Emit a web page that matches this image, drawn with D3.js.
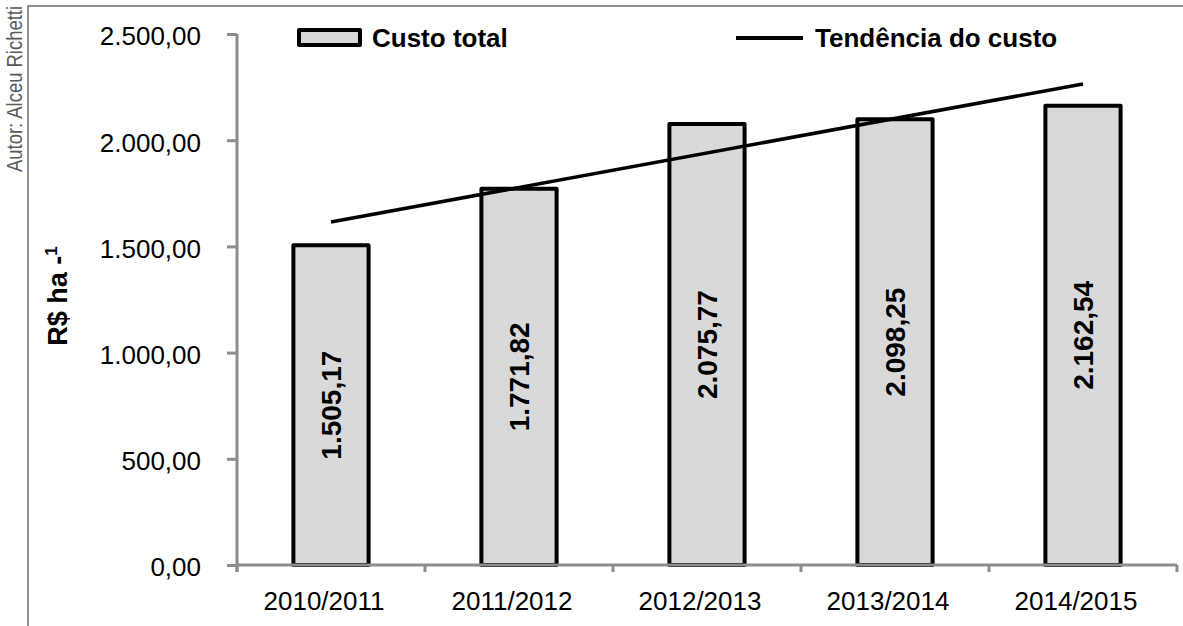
<!DOCTYPE html>
<html>
<head>
<meta charset="utf-8">
<script src="https://cdn.jsdelivr.net/npm/d3@7"></script>
<style>
  html, body { margin: 0; padding: 0; background: #fff; }
  svg { display: block; font-family: "Liberation Sans", Arial, Helvetica, sans-serif; }
</style>
</head>
<body>
<svg id="chart" width="1183" height="626"></svg>
<script>
// ---- data ----
const categories = ["2010/2011", "2011/2012", "2012/2013", "2013/2014", "2014/2015"];
const custoTotal = [1505.17, 1771.82, 2075.77, 2098.25, 2162.54];
// trend line values read at first and last category
const trendCategories = ["2010/2011", "2014/2015"];
const trendValues = [1615, 2265];
const yTicks = [0, 500, 1000, 1500, 2000, 2500];
const legendLabels = ["Custo total", "Tendência do custo"];
const yTitle = "R$ ha";
const author = "Autor: Alceu Richetti";

// ---- setup ----
const svg = d3.select("#chart");
const ptBR = d3.formatLocale({ decimal: ",", thousands: ".", grouping: [3], currency: ["R$ ", ""] });
const fmt = ptBR.format(",.2f");

const x = d3.scaleBand().domain(categories).range([237, 1177]).paddingInner(0.6).paddingOuter(0.3);
const y = d3.scaleLinear().domain([0, 2500]).range([565, 34]);

const axisColor = "#8c8c8c";

// outer frame (partially visible)
svg.append("path")
  .attr("d", "M28,626 L28,6 L1183,6")
  .attr("fill", "none").attr("stroke", "#6e6e6e").attr("stroke-width", 1.5);

// author
svg.append("text")
  .attr("transform", "translate(22,6) rotate(-90)")
  .attr("text-anchor", "end")
  .attr("font-size", 22)
  .attr("fill", "#595959")
  .attr("textLength", 166)
  .attr("lengthAdjust", "spacingAndGlyphs")
  .text(author);

// bars
const half = (x.step() - x.bandwidth()) / 2;
svg.append("g").selectAll("rect").data(categories).join("rect")
  .attr("x", d => x(d))
  .attr("y", (d, i) => y(custoTotal[i]))
  .attr("width", x.bandwidth())
  .attr("height", (d, i) => y(0) - y(custoTotal[i]))
  .attr("fill", "#d9d9d9")
  .attr("stroke", "#000")
  .attr("stroke-width", 4)
  .attr("stroke-linejoin", "round");

// y axis
const yAxis = d3.axisLeft(y).tickValues(yTicks).tickFormat(fmt).tickSize(10).tickSizeOuter(0).tickPadding(26);
const gy = svg.append("g").attr("transform", "translate(237,0)").call(yAxis);
gy.select(".domain").remove();
gy.selectAll(".tick line").attr("stroke", axisColor).attr("stroke-width", 3);
gy.selectAll(".tick text").attr("font-size", 26).attr("fill", "#000")
  .attr("font-family", "'Liberation Sans', Arial, sans-serif").attr("dy", "0.42em");

// axis lines
svg.append("line").attr("x1", 237).attr("x2", 237).attr("y1", y(2500)).attr("y2", y(0) + 7)
  .attr("stroke", axisColor).attr("stroke-width", 3);
svg.append("line").attr("x1", 237).attr("x2", x.range()[1]).attr("y1", y(0)).attr("y2", y(0))
  .attr("stroke", axisColor).attr("stroke-width", 3);

// x ticks at category boundaries
const bounds = categories.map(c => x(c) - half).concat([x(categories[categories.length - 1]) + x.bandwidth() + half]);
svg.append("g").selectAll("line").data(bounds).join("line")
  .attr("x1", d => d).attr("x2", d => d)
  .attr("y1", y(0)).attr("y2", y(0) + 7)
  .attr("stroke", axisColor).attr("stroke-width", 3);

// x labels
svg.append("g").selectAll("text").data(categories).join("text")
  .attr("x", d => x(d) + x.bandwidth() / 2 - 7)
  .attr("y", 610)
  .attr("text-anchor", "middle")
  .attr("font-size", 26)
  .text(d => d);

// trend line
svg.append("line")
  .attr("x1", x(trendCategories[0]) + x.bandwidth() / 2)
  .attr("y1", y(trendValues[0]))
  .attr("x2", x(trendCategories[1]) + x.bandwidth() / 2)
  .attr("y2", y(trendValues[1]))
  .attr("stroke", "#000").attr("stroke-width", 3.5);

// value labels
svg.append("g").selectAll("text").data(categories).join("text")
  .attr("transform", (d, i) => {
    const cx = x(d) + x.bandwidth() / 2;
    const cy = (y(custoTotal[i]) + y(0)) / 2;
    return `translate(${cx},${cy}) rotate(-90)`;
  })
  .attr("text-anchor", "middle")
  .attr("dy", "0.36em")
  .attr("font-size", 28)
  .attr("font-weight", "bold")
  .text((d, i) => fmt(custoTotal[i]));

// y title
const yt = svg.append("text")
  .attr("transform", "translate(67,296) rotate(-90)")
  .attr("text-anchor", "middle")
  .attr("font-size", 27)
  .attr("font-weight", "bold");
yt.append("tspan").text(yTitle + " -");
yt.append("tspan").attr("font-size", 17).attr("dy", -10).text("1");

// legend
svg.append("rect").attr("x", 299).attr("y", 30).attr("width", 61).attr("height", 15)
  .attr("fill", "#d9d9d9").attr("stroke", "#000").attr("stroke-width", 4).attr("stroke-linejoin", "round");
svg.append("text").attr("x", 372).attr("y", 47).attr("font-size", 26).attr("font-weight", "bold").text(legendLabels[0]);
svg.append("line").attr("x1", 736).attr("x2", 803).attr("y1", 38).attr("y2", 38)
  .attr("stroke", "#000").attr("stroke-width", 4);
svg.append("text").attr("x", 815).attr("y", 47).attr("font-size", 26).attr("font-weight", "bold").text(legendLabels[1]);
</script>
</body>
</html>
